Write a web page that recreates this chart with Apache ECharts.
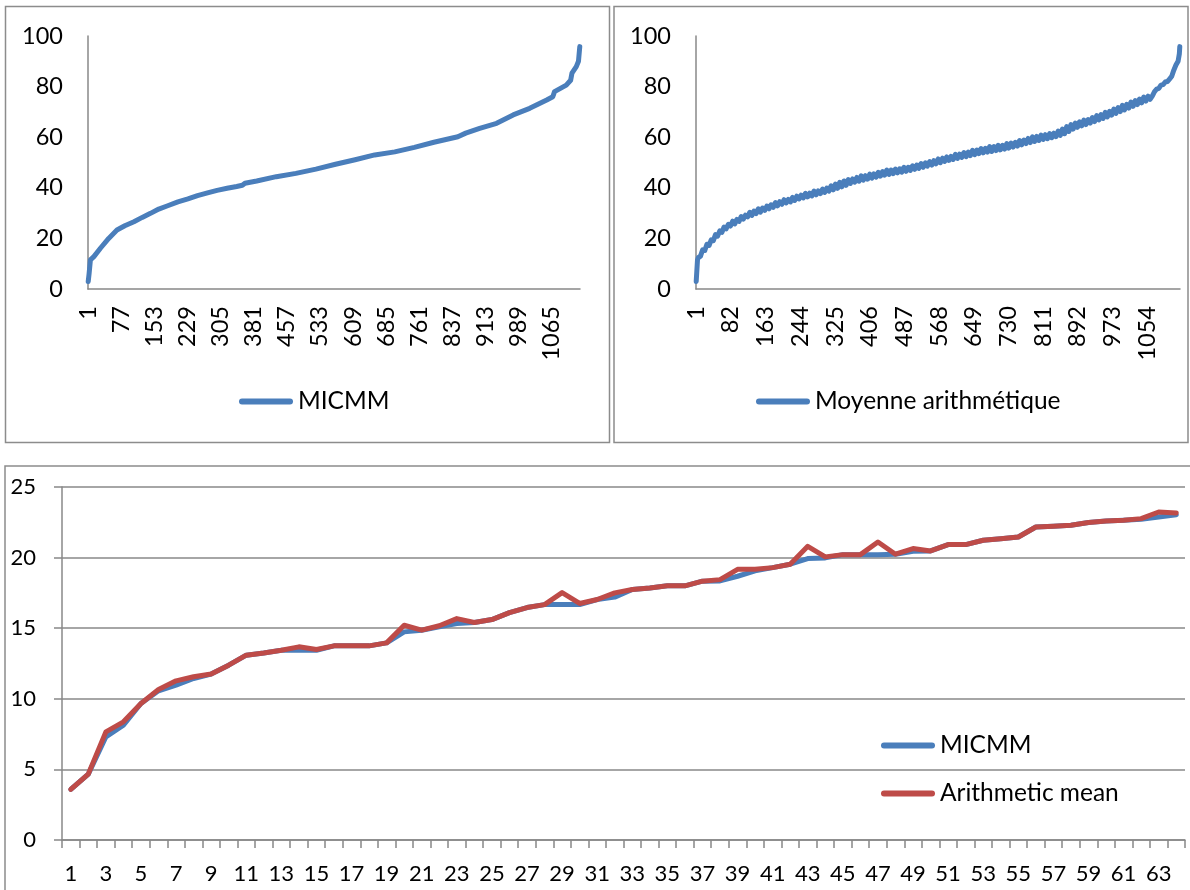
<!DOCTYPE html>
<html>
<head>
<meta charset="utf-8">
<script src="https://cdn.jsdelivr.net/npm/echarts@6/dist/echarts.min.js"></script>
<style>
  html, body { margin: 0; padding: 0; background: #ffffff; }
  #chart { width: 1190px; height: 890px; }
</style>
</head>
<body>
<div id="chart"></div>
<script>
// ---- data ----
// Sorted scores (1130 cases); knots are [rank, value]
const sortedCount = 1130;
const sortedRanks = Array.from({ length: sortedCount }, (_, i) => String(i + 1));

const micmmSorted = [
  [1, 3.0], [3, 6.0], [6, 11.5], [14, 12.8], [29, 16.1], [48, 20.0], [67, 23.3], [85, 25.0],
  [106, 26.6], [125, 28.3], [144, 29.9], [163, 31.6], [182, 32.8], [207, 34.4], [230, 35.6],
  [252, 36.9], [275, 38.0], [297, 39.0], [320, 39.8], [342, 40.5], [355, 41.0], [361, 41.8],
  [388, 42.7], [433, 44.4], [478, 45.7], [524, 47.4], [569, 49.3], [614, 51.1], [659, 53.0],
  [705, 54.2], [750, 56.0], [795, 58.0], [835, 59.6], [850, 60.2], [868, 61.6], [900, 63.5],
  [939, 65.5], [977, 68.8], [1015, 71.4], [1054, 74.7], [1068, 76.0], [1072, 78.0],
  [1099, 80.6], [1109, 82.5], [1112, 85.3], [1122, 87.9], [1127, 90.0], [1130, 95.8]
];

// The arithmetic mean is noisier from one rank to the next
const meanSorted = [
  [1, 3.0], [4, 11.5], [6, 12.4], [11, 13.0], [16, 15.5], [21, 15.2], [26, 17.7], [31, 17.2], [36, 19.4],
  [41, 19.1], [46, 21.5], [51, 20.9], [56, 23.0], [61, 22.4], [66, 24.5], [71, 23.8], [76, 25.6],
  [81, 24.9], [86, 26.8], [91, 25.7], [96, 27.5], [101, 26.7], [106, 28.6], [111, 27.6], [116, 29.2],
  [121, 28.5], [126, 30.3], [131, 29.1], [136, 30.8], [141, 29.8], [146, 31.7], [151, 30.4], [156, 32.0],
  [161, 31.1], [166, 32.8], [171, 31.7], [176, 33.3], [181, 32.3], [186, 34.2], [191, 32.9], [196, 34.5],
  [201, 33.5], [206, 35.3], [211, 34.0], [216, 35.4], [221, 34.4], [226, 36.2], [231, 35.0], [236, 36.7],
  [241, 35.6], [246, 37.1], [251, 36.0], [256, 37.8], [261, 36.4], [266, 37.9], [271, 36.8], [276, 38.7],
  [281, 37.2], [286, 38.8], [291, 37.7], [296, 39.5], [301, 38.2], [306, 39.9], [311, 38.7], [316, 40.8],
  [321, 39.2], [326, 41.5], [331, 39.8], [336, 42.2], [341, 40.4], [346, 42.7], [351, 41.0], [356, 43.2],
  [361, 41.7], [366, 43.5], [371, 42.2], [376, 44.1], [381, 42.6], [386, 44.7], [391, 43.0], [396, 44.8],
  [401, 43.4], [406, 45.4], [411, 43.8], [416, 45.5], [421, 44.2], [426, 46.1], [431, 44.6], [436, 46.4],
  [441, 45.0], [446, 47.0], [451, 45.3], [456, 47.0], [461, 45.6], [466, 47.4], [471, 45.9], [476, 47.5],
  [481, 46.2], [486, 48.1], [491, 46.5], [496, 48.1], [501, 46.9], [506, 48.7], [511, 47.3], [516, 49.0],
  [521, 47.7], [526, 49.6], [531, 48.1], [536, 49.9], [541, 48.6], [546, 50.4], [551, 49.0], [556, 50.7],
  [561, 49.5], [566, 51.4], [571, 49.9], [576, 51.7], [581, 50.4], [586, 52.2], [591, 50.8], [596, 52.4],
  [601, 51.2], [606, 53.2], [611, 51.6], [616, 53.3], [621, 52.0], [626, 53.9], [631, 52.3], [636, 54.1],
  [641, 52.7], [646, 54.8], [651, 53.1], [656, 54.9], [661, 53.5], [666, 55.5], [671, 53.8], [676, 55.6],
  [681, 54.1], [686, 56.3], [691, 54.4], [696, 56.3], [701, 54.7], [706, 56.8], [711, 55.0], [716, 56.8],
  [721, 55.3], [726, 57.5], [731, 55.7], [736, 57.7], [741, 56.1], [746, 58.0], [751, 56.5], [756, 58.7],
  [761, 57.0], [766, 58.9], [771, 57.5], [776, 59.5], [781, 57.9], [786, 60.1], [791, 58.3], [796, 60.3],
  [801, 58.7], [806, 60.8], [811, 59.1], [816, 61.0], [821, 59.4], [826, 61.4], [831, 59.8], [836, 61.6],
  [841, 60.2], [846, 62.4], [851, 60.7], [856, 63.2], [861, 61.4], [866, 64.2], [871, 62.3], [876, 65.0],
  [881, 63.2], [886, 65.6], [891, 63.9], [896, 66.1], [901, 64.5], [906, 66.8], [911, 65.0], [916, 67.0],
  [921, 65.6], [926, 67.8], [931, 66.2], [936, 68.5], [941, 66.8], [946, 68.9], [951, 67.4], [956, 69.8],
  [961, 68.0], [966, 70.2], [971, 68.7], [976, 71.1], [981, 69.4], [986, 71.7], [991, 70.1], [996, 72.6],
  [1001, 70.8], [1006, 73.0], [1011, 71.5], [1016, 73.9], [1021, 72.2], [1026, 74.5], [1031, 72.9],
  [1036, 75.1], [1041, 73.6], [1046, 75.9], [1051, 74.3], [1056, 76.2], [1061, 75.0], [1066, 76.3],
  [1071, 78.0], [1076, 79.0], [1081, 79.3], [1086, 80.6], [1091, 80.8], [1096, 81.8], [1101, 82.0],
  [1106, 83.0], [1111, 84.0], [1116, 86.5], [1121, 88.5], [1126, 90.0], [1129, 93.0], [1130, 95.8]
];

// First 64 cases, both estimators
const caseLabels = Array.from({ length: 64 }, (_, i) => String(i + 1));
const micmmFirst = [
  3.58, 4.67, 7.3, 8.14, 9.67, 10.57, 10.97, 11.44, 11.75, 12.38,
  13.09, 13.25, 13.44, 13.44, 13.44, 13.75, 13.75, 13.75, 13.96, 14.74,
  14.86, 15.1, 15.33, 15.4, 15.61, 16.1, 16.46, 16.67, 16.67, 16.67,
  17.03, 17.2, 17.74, 17.85, 18.0, 18.0, 18.33, 18.35, 18.68, 19.06,
  19.29, 19.53, 19.93, 19.98, 20.21, 20.21, 20.21, 20.24, 20.45, 20.47,
  20.92, 20.92, 21.23, 21.34, 21.46, 22.17, 22.22, 22.29, 22.48, 22.59,
  22.64, 22.71, 22.88, 23.04
];
const meanFirst = [
  3.58, 4.67, 7.66, 8.37, 9.67, 10.66, 11.27, 11.56, 11.75, 12.38,
  13.09, 13.25, 13.44, 13.68, 13.49, 13.75, 13.75, 13.75, 13.96, 15.21,
  14.86, 15.17, 15.68, 15.4, 15.61, 16.1, 16.46, 16.67, 17.52, 16.75,
  17.03, 17.5, 17.74, 17.85, 18.0, 18.0, 18.33, 18.44, 19.17, 19.17,
  19.29, 19.53, 20.8, 20.05, 20.21, 20.21, 21.1, 20.24, 20.64, 20.47,
  20.92, 20.92, 21.23, 21.34, 21.46, 22.17, 22.22, 22.29, 22.48, 22.59,
  22.64, 22.76, 23.23, 23.16
];

// ---- styling ----
const BLUE = '#4a7ebb';
const RED = '#be4b48';
const GRAY = '#888888';
const FONT = 'Lato';
const CAPSULE = 'path://M3 0H51A3 3 0 0 1 51 6H3A3 3 0 0 1 3 0Z';

const toIndexed = pts => pts.map(p => [p[0] - 1, p[1]]);

const textOf = size => ({ color: '#000', fontFamily: FONT, fontSize: size });
const legendBase = {
  orient: 'vertical', icon: CAPSULE, itemWidth: 54, itemHeight: 6, padding: 0,
  itemStyle: { borderWidth: 0 },
  textStyle: textOf(24.5)
};

const sortedXAxis = (grid, every) => ({
  gridIndex: grid, type: 'category', data: sortedRanks, boundaryGap: true,
  axisLine: { show: true, lineStyle: { color: GRAY, width: 1.5 } },
  axisTick: { show: false },
  splitLine: { show: false },
  axisLabel: Object.assign({ interval: every - 1, rotate: 90, margin: 17 }, textOf(23.5))
});
const sortedYAxis = grid => ({
  gridIndex: grid, type: 'value', min: 0, max: 100, interval: 20,
  axisLine: { show: true, lineStyle: { color: GRAY, width: 1.5 } },
  axisTick: { show: false },
  splitLine: { show: false },
  axisLabel: Object.assign({ margin: 25 }, textOf(23.5))
});
const lineStyleFor = color => ({ color: color, width: 5, cap: 'round', join: 'round' });

const chart = echarts.init(document.getElementById('chart'), null, { renderer: 'canvas' });

chart.setOption({
  animation: false,
  backgroundColor: '#ffffff',
  graphic: [
    { type: 'rect', shape: { x: 5.5, y: 6.5, width: 604, height: 436 },
      style: { fill: 'none', stroke: '#8c8c8c', lineWidth: 1.5 } },
    { type: 'rect', shape: { x: 614, y: 6.5, width: 574, height: 436 },
      style: { fill: 'none', stroke: '#8c8c8c', lineWidth: 1.5 } },
    { type: 'rect', shape: { x: 5, y: 466, width: 1200, height: 440 },
      style: { fill: 'none', stroke: '#8c8c8c', lineWidth: 1.5 } }
  ],
  grid: [
    { left: 88, top: 36, width: 492, height: 253 },
    { left: 696, top: 36, width: 484, height: 253 },
    { left: 62, top: 487, width: 1123, height: 353 }
  ],
  xAxis: [
    sortedXAxis(0, 76),
    sortedXAxis(1, 81),
    {
      gridIndex: 2, type: 'category', data: caseLabels, boundaryGap: true,
      axisLine: { show: true, lineStyle: { color: GRAY, width: 1.5 } },
      axisTick: { show: true, interval: 0, length: 8, inside: false, lineStyle: { color: GRAY, width: 1.5 } },
      splitLine: { show: false },
      axisLabel: Object.assign({ interval: 1, margin: 23 }, textOf(22))
    }
  ],
  yAxis: [
    sortedYAxis(0),
    sortedYAxis(1),
    {
      gridIndex: 2, type: 'value', min: 0, max: 25, interval: 5,
      axisLine: { show: true, lineStyle: { color: GRAY, width: 1.5 } },
      axisTick: { show: true, length: 8, inside: false, lineStyle: { color: GRAY, width: 1.5 } },
      splitLine: { show: true, lineStyle: { color: GRAY, width: 1.5 } },
      axisLabel: Object.assign({ margin: 26 }, textOf(22))
    }
  ],
  legend: [
    Object.assign({ data: ['MICMM'], left: 239, top: 389 }, legendBase),
    Object.assign({ data: ['Moyenne arithmétique'], left: 756, top: 389 }, legendBase),
    Object.assign({ data: ['MICMM', 'Arithmetic mean'], left: 881, top: 733, itemGap: 23 }, legendBase)
  ],
  series: [
    { name: 'MICMM', type: 'line', xAxisIndex: 0, yAxisIndex: 0, symbol: 'none',
      data: toIndexed(micmmSorted), lineStyle: lineStyleFor(BLUE), itemStyle: { color: BLUE } },
    { name: 'Moyenne arithmétique', type: 'line', xAxisIndex: 1, yAxisIndex: 1, symbol: 'none',
      data: toIndexed(meanSorted), lineStyle: lineStyleFor(BLUE), itemStyle: { color: BLUE } },
    { name: 'MICMM', type: 'line', xAxisIndex: 2, yAxisIndex: 2, symbol: 'none',
      data: micmmFirst, lineStyle: lineStyleFor(BLUE), itemStyle: { color: BLUE } },
    { name: 'Arithmetic mean', type: 'line', xAxisIndex: 2, yAxisIndex: 2, symbol: 'none',
      data: meanFirst, lineStyle: lineStyleFor(RED), itemStyle: { color: RED } }
  ]
});
</script>
</body>
</html>
